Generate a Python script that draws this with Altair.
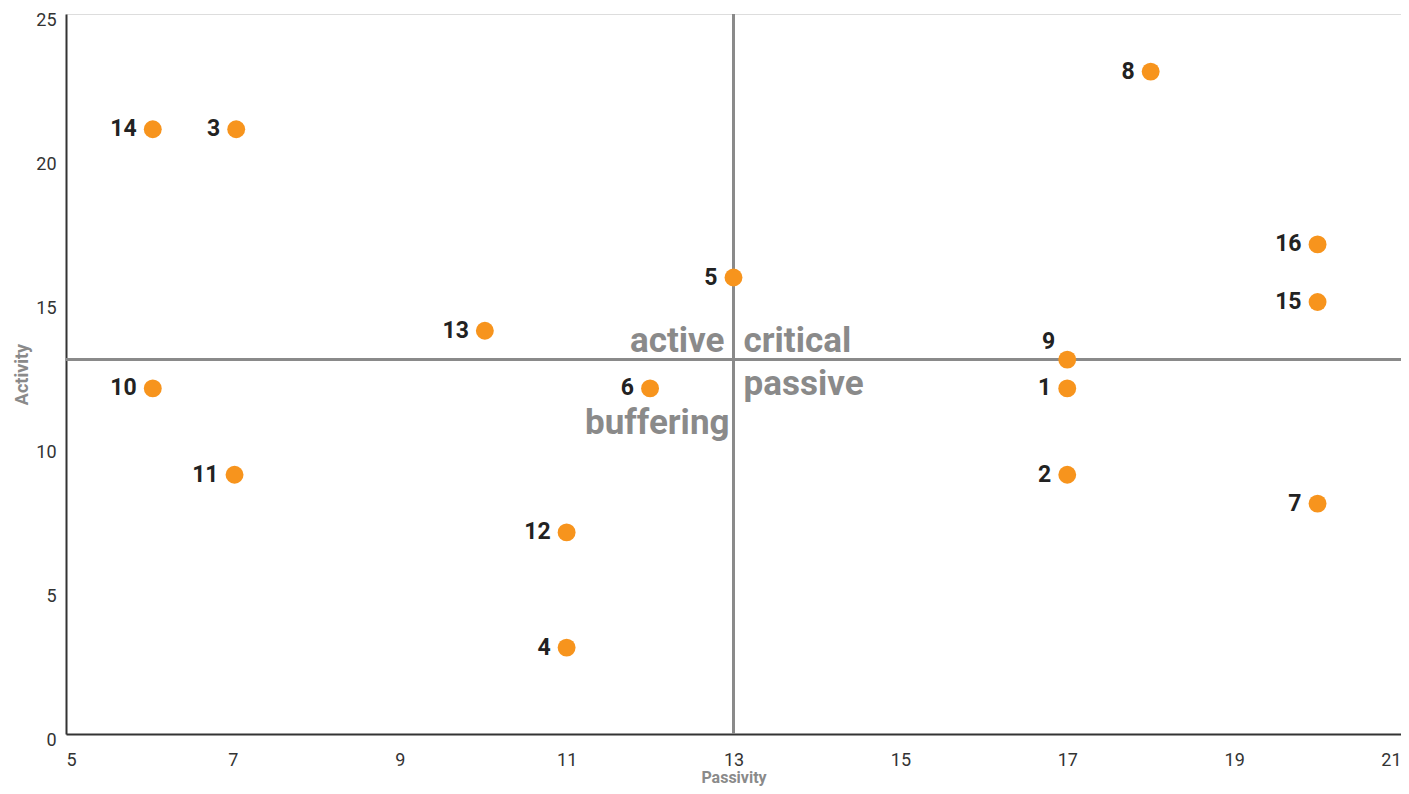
import altair as alt
import pandas as pd

ids = ["1", "2", "3", "4", "5", "6", "7", "8", "9", "10", "11", "12", "13", "14", "15", "16"]
passivity = [17, 17, 7.04, 11, 13, 12, 20, 18, 17, 6.04, 7.02, 11, 10.02, 6.04, 20, 20]
activity = [12, 9, 21, 3, 15.85, 12, 8, 23, 13, 12, 9, 7, 14, 21, 15, 17]

quad_names = ["active", "critical", "passive", "buffering"]
x_ticks = [5, 7, 9, 11, 13, 15, 17, 19, 21]
y_ticks = [0, 5, 10, 15, 20, 25]
center = 13

df = pd.DataFrame({"id": ids, "Passivity": passivity, "Activity": activity})
df_main = df[df["id"] != "9"]
df_nine = df[df["id"] == "9"]

FONT = "Roboto"
ORANGE = "#F7941D"
GREY = "#8a8a8a"

xs = alt.Scale(domain=[5, 21], nice=False, zero=False)
ys = alt.Scale(domain=[0, 25], nice=False, zero=False)

x_enc = alt.X("Passivity:Q", scale=xs, axis=alt.Axis(
    values=x_ticks, format="d", title="Passivity", grid=False, ticks=False,
    domainColor="#333333", domainWidth=2, labelColor="#333333",
    labelFontSize=18, labelFont=FONT, labelPadding=17, labelFlush=True,
    titleFont=FONT, titleFontSize=16, titleColor=GREY, titleFontWeight="bold",
    titlePadding=0))
y_enc = alt.Y("Activity:Q", scale=ys, axis=alt.Axis(
    values=y_ticks, format="d", title="Activity", grid=False, ticks=False,
    domainColor="#333333", domainWidth=2, labelColor="#333333",
    labelFontSize=18, labelFont=FONT, labelPadding=10, labelOffset=6,
    labelFlush=False,
    titleFont=FONT, titleFontSize=18, titleColor=GREY, titleFontWeight="bold",
    titlePadding=4))

hline = alt.Chart(pd.DataFrame({"y": [center], "x1": [5], "x2": [21]})).mark_rule(
    color=GREY, strokeWidth=3).encode(
    y=alt.Y("y:Q", scale=ys), x=alt.X("x1:Q", scale=xs), x2="x2:Q")
vline = alt.Chart(pd.DataFrame({"x": [center], "y1": [0], "y2": [25]})).mark_rule(
    color=GREY, strokeWidth=3).encode(
    x=alt.X("x:Q", scale=xs), y=alt.Y("y1:Q", scale=ys), y2="y2:Q")

points = alt.Chart(df).mark_point(filled=True, size=320, opacity=1,
                                  color=ORANGE, shape="circle").encode(x=x_enc, y=y_enc)

labels = alt.Chart(df_main).mark_text(align="right", baseline="middle", dx=-16,
                                      font=FONT, fontSize=23, fontWeight="bold",
                                      color="#222222").encode(
    x=alt.X("Passivity:Q", scale=xs), y=alt.Y("Activity:Q", scale=ys), text="id:N")
label9 = alt.Chart(df_nine).mark_text(align="right", baseline="middle", dx=-12, dy=-18,
                                      font=FONT, fontSize=23, fontWeight="bold",
                                      color="#222222").encode(
    x=alt.X("Passivity:Q", scale=xs), y=alt.Y("Activity:Q", scale=ys), text="id:N")

def qlabel(name, align, dx, dy):
    return alt.Chart(pd.DataFrame({"x": [center], "y": [center], "t": [name]})).mark_text(
        align=align, baseline="alphabetic", dx=dx, dy=dy, font=FONT, fontSize=35,
        fontWeight="bold", color=GREY).encode(
        x=alt.X("x:Q", scale=xs), y=alt.Y("y:Q", scale=ys), text="t:N")

quads = (qlabel(quad_names[0], "right", -9, -8) + qlabel(quad_names[1], "left", 10, -8)
         + qlabel(quad_names[2], "left", 10, 35) + qlabel(quad_names[3], "right", -4, 74))

chart = alt.layer(hline, vline, points, labels, label9, quads).properties(
    width=1335, height=720,
    autosize=alt.AutoSizeParams(type="none"),
    padding={"left": 58, "top": 6, "right": 0, "bottom": 52},
).configure_view(stroke=None).configure(background="white")

chart.save("out.html", embed_options={"renderer": "svg", "actions": False})
